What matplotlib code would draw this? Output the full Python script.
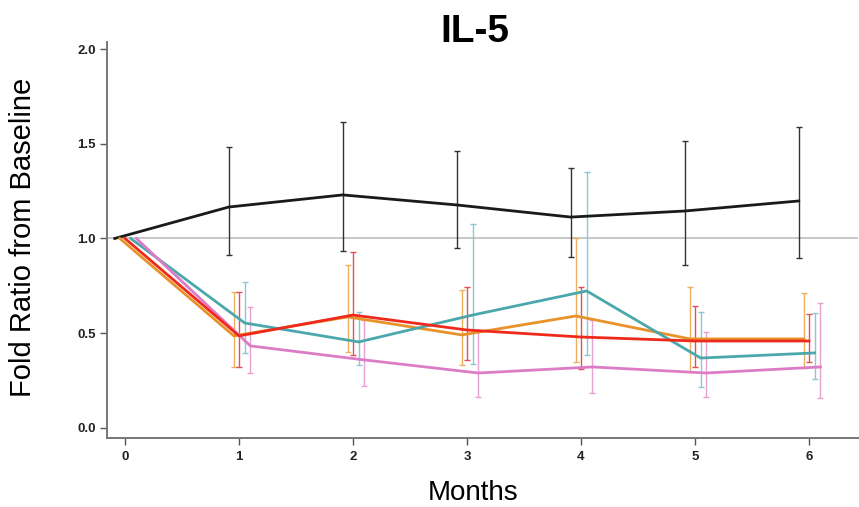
import matplotlib
matplotlib.use("Agg")
import matplotlib.pyplot as plt
import numpy as np

plt.rcParams['font.family'] = ['Liberation Sans', 'DejaVu Sans']

months = [0, 1, 2, 3, 4, 5, 6]
xtick_labels = ['0', '1', '2', '3', '4', '5', '6']
ytick_vals = [0.0, 0.5, 1.0, 1.5, 2.0]

# series: mean, upper bound, lower bound
black_mean = [1.0, 1.166, 1.23, 1.177, 1.113, 1.145, 1.198]
black_hi = [1.0, 1.483, 1.615, 1.46, 1.372, 1.514, 1.588]
black_lo = [1.0, 0.913, 0.934, 0.948, 0.902, 0.86, 0.897]

orange_mean = [1.0, 0.486, 0.586, 0.491, 0.591, 0.47, 0.47]
orange_hi = [1.0, 0.718, 0.86, 0.728, 1.0, 0.744, 0.712]
orange_lo = [1.0, 0.322, 0.40, 0.332, 0.348, 0.295, 0.317]

red_mean = [1.0, 0.486, 0.596, 0.517, 0.48, 0.459, 0.459]
red_hi = [1.0, 0.718, 0.93, 0.744, 0.744, 0.644, 0.60]
red_lo = [1.0, 0.322, 0.385, 0.359, 0.311, 0.322, 0.348]

teal_mean = [1.0, 0.554, 0.454, 0.596, 0.723, 0.369, 0.396]
teal_hi = [1.0, 0.77, 0.612, 1.076, 1.35, 0.612, 0.607]
teal_lo = [1.0, 0.396, 0.332, 0.338, 0.385, 0.216, 0.259]

pink_mean = [1.0, 0.433, 0.359, 0.29, 0.322, 0.29, 0.322]
pink_hi = [1.0, 0.638, 0.57, 0.517, 0.57, 0.507, 0.66]
pink_lo = [1.0, 0.29, 0.222, 0.164, 0.185, 0.164, 0.158]

series = [
    (black_mean, black_hi, black_lo, -0.09, '#1a1a1a', '#333333'),
    (orange_mean, orange_hi, orange_lo, -0.045, '#E8922A', '#EDB060'),
    (teal_mean, teal_hi, teal_lo, 0.05, '#4AA8AC', '#8EC6D6'),
    (pink_mean, pink_hi, pink_lo, 0.1, '#DD7CC6', '#E8A2D2'),
    (red_mean, red_hi, red_lo, 0.0, '#EE2A1C', '#E2505A'),
]

fig = plt.figure(figsize=(8.59, 5.07), dpi=100)
ax = fig.add_axes([107/859, 1-438/507, (858-107)/859, (438-42)/507])

ax.axhline(1.0, color='#bdbdbd', lw=1.2, zorder=1)

x = np.array(months, dtype=float)
for mean, hi, lo, off, col, ecol in series:
    m = np.array(mean); h = np.array(hi); l = np.array(lo)
    xs = x + off
    ax.errorbar(xs[1:], m[1:], yerr=[m[1:] - l[1:], h[1:] - m[1:]], fmt='none',
                ecolor=ecol, elinewidth=1.0, capsize=2, capthick=1.0, zorder=2)
for mean, hi, lo, off, col, ecol in series:
    ax.plot(x + off, mean, color=col, lw=2.0, zorder=3, solid_joinstyle='round')

ax.set_xlim(-0.158, 6.43)
ax.set_ylim(-0.053, 2.037)
ax.set_xticks(months)
ax.set_xticklabels(xtick_labels)
ax.set_yticks(ytick_vals)
ax.set_yticklabels([f'{v:.1f}' for v in ytick_vals])

for s in ['top', 'right']:
    ax.spines[s].set_visible(False)
for s in ['left', 'bottom']:
    ax.spines[s].set_color('#777777')
    ax.spines[s].set_linewidth(1.4)

ax.tick_params(axis='both', colors='#555555', length=5, width=1.0, labelsize=9.5,
               labelcolor='#222222')
for lab in ax.get_xticklabels() + ax.get_yticklabels():
    lab.set_fontweight('bold')
ax.tick_params(axis='x', pad=4)
ax.tick_params(axis='y', pad=3)

fig.text(475/859, 1-32/507, 'IL-5', ha='center', va='center', fontsize=28, fontweight='bold')
fig.text(23/859, 1-237/507, 'Fold Ratio from Baseline', ha='center', va='center',
         rotation=90, fontsize=21)
fig.text(473/859, 1-493/507, 'Months', ha='center', va='center', fontsize=20)

fig.savefig('out.png', dpi=100)
